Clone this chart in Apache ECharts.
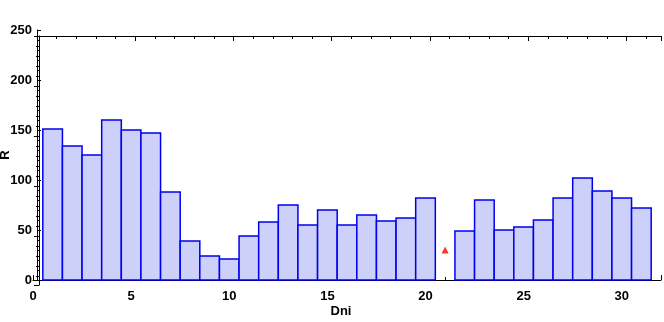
<!DOCTYPE html>
<html>
<head>
<meta charset="utf-8">
<script src="https://cdn.jsdelivr.net/npm/echarts@6/dist/echarts.min.js"></script>
<style>
  html, body { margin: 0; padding: 0; background: #fff; }
  #chart { width: 664px; height: 322px; }
</style>
</head>
<body>
<div id="chart"></div>
<script>
// bins 1..31 (bin 21 has no bar, only a marker)
let binX = [1, 2, 3, 4, 5, 6, 7, 8, 9, 10, 11, 12, 13, 14, 15, 16, 17, 18, 19, 20, 21, 22, 23, 24, 25, 26, 27, 28, 29, 30, 31]
let binR = [151, 134, 125, 160, 150, 147, 88, 39, 24, 21, 44, 58, 75, 55, 70, 55, 65, 59, 62, 82, null, 49, 80, 50, 53, 60, 82, 102, 89, 82, 72]
let markX = [21]
let markR = [30]
let yTicks = [0, 50, 100, 150, 200, 250]
let xTicks = [0, 5, 10, 15, 20, 25, 30]

let font = 'Liberation Sans, Arial, sans-serif'
let barData = []
binX.forEach((x, i) => { if (binR[i] != null) barData.push([x, binR[i]]) })

let chart = echarts.init(document.getElementById('chart'))
chart.setOption({
  backgroundColor: '#fff',
  animation: false,
  grid: [
    { left: 33, right: 3, top: 30, bottom: 42, outerBoundsMode: 'none', containLabel: false },
    // frame box (top / right sides)
    { left: 37, right: 3, top: 36, bottom: 37, outerBoundsMode: 'none', containLabel: false },
  ],
  xAxis: [
    {
      type: 'value',
      gridIndex: 0,
      min: 0,
      max: 32,
      interval: 5,
      offset: 5,
      name: 'Dni',
      nameLocation: 'middle',
      nameGap: 20,
      nameMoveOverlap: false,
      nameTextStyle: { color: '#000', fontFamily: font, fontWeight: 'bold', fontSize: 13, padding: [0, 12, 0, 0] },
      axisLine: { lineStyle: { color: '#000', width: 1 } },
      axisTick: { inside: true, length: 5, lineStyle: { color: '#000' } },
      minorTick: { show: true, splitNumber: 5, length: 3, lineStyle: { color: '#000' } },
      axisLabel: {
        color: '#000', fontFamily: font, fontWeight: 'bold', fontSize: 13, margin: 5,
        showMaxLabel: false,
        formatter: v => xTicks.includes(v) ? String(v) : ''
      },
      splitLine: { show: false },
    },
    {
      type: 'value',
      gridIndex: 1,
      position: 'top',
      min: -0.1,
      max: 31.66,
      interval: 5,
      axisLine: { lineStyle: { color: '#000', width: 1 } },
      axisTick: { inside: true, length: 5, lineStyle: { color: '#000' } },
      minorTick: { show: true, splitNumber: 5, length: 3, lineStyle: { color: '#000' } },
      axisLabel: { show: false },
      splitLine: { show: false },
    },
  ],
  yAxis: [
    {
      type: 'value',
      gridIndex: 0,
      min: 0,
      max: 250,
      interval: 50,
      offset: -4,
      name: 'R',
      nameLocation: 'middle',
      nameGap: 25,
      nameMoveOverlap: false,
      nameTextStyle: { color: '#000', fontFamily: font, fontWeight: 'bold', fontSize: 13 },
      axisLine: { show: true, lineStyle: { color: '#000', width: 1 } },
      axisTick: { show: true, inside: true, length: 4, lineStyle: { color: '#000' } },
      minorTick: { show: true, splitNumber: 5, length: 3, lineStyle: { color: '#000' } },
      axisLabel: {
        color: '#000', fontFamily: font, fontWeight: 'bold', fontSize: 13, margin: 5,
        formatter: v => yTicks.includes(v) ? String(v) : ''
      },
      splitLine: { show: false },
    },
    {
      type: 'value',
      gridIndex: 1,
      position: 'right',
      inverse: true,
      min: 0,
      max: 249,
      interval: 50,
      axisLine: { show: true, lineStyle: { color: '#000', width: 1 } },
      axisTick: { show: true, inside: true, length: 5, lineStyle: { color: '#000' } },
      minorTick: { show: true, splitNumber: 5, length: 3, lineStyle: { color: '#000' } },
      axisLabel: { show: false },
      splitLine: { show: false },
    },
  ],
  series: [
    {
      type: 'custom',
      xAxisIndex: 0,
      yAxisIndex: 0,
      data: barData,
      renderItem: (params, api) => {
        let x = api.value(0)
        let top = api.coord([x - 0.5, api.value(1)])
        let bottom = api.coord([x + 0.5, 0])
        return {
          type: 'rect',
          shape: { x: top[0], y: top[1], width: bottom[0] - top[0], height: bottom[1] - top[1] },
          style: { fill: '#cdd1fa', stroke: '#0000f0', lineWidth: 1.5 },
        }
      },
    },
    {
      type: 'scatter',
      xAxisIndex: 0,
      yAxisIndex: 0,
      symbol: 'triangle',
      symbolSize: 7,
      itemStyle: { color: '#f00' },
      data: markX.map((x, i) => [x, markR[i]]),
    },
  ],
})
</script>
</body>
</html>
